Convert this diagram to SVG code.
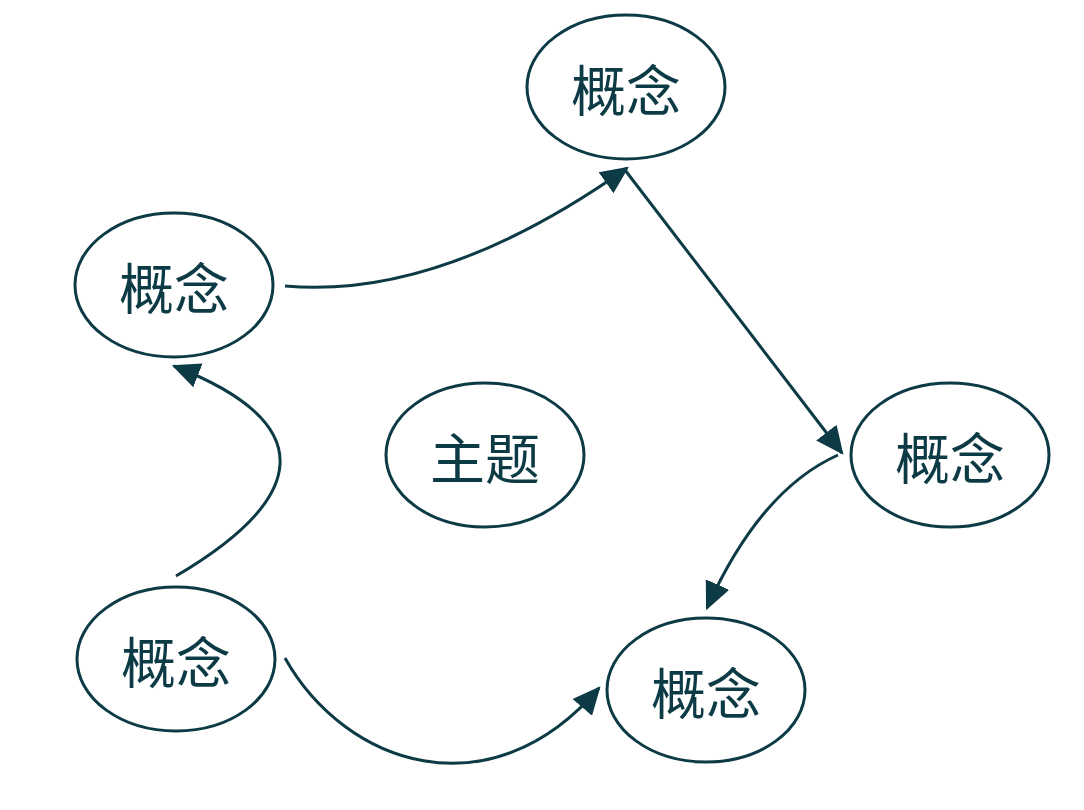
<svg xmlns="http://www.w3.org/2000/svg" width="1084" height="810" viewBox="0 0 1084 810">
<defs>
<style>
.node ellipse{fill:#fff;stroke:#0c3a45;stroke-width:3}
.node text{font-family:"Noto Sans CJK SC","Noto Sans",sans-serif;font-size:55px;fill:#0c3a45;text-anchor:middle;dominant-baseline:central}
.edge{fill:none;stroke:#0c3a45;stroke-width:3;marker-end:url(#arrow)}
</style>
<marker id="arrow" markerUnits="userSpaceOnUse" markerWidth="28" markerHeight="28" viewBox="0 0 24 24" refX="22" refY="12" orient="auto">
<path d="M0,1 L24,12 L0,23 Z" fill="#0c3a45"/>
</marker>
</defs>
<rect width="1084" height="810" fill="#fff"/>
<g id="node-top" class="node"><ellipse cx="626" cy="87" rx="99" ry="72"/><text x="626" y="87">概念</text></g>
<g id="node-left" class="node"><ellipse cx="174" cy="285" rx="99" ry="72"/><text x="174" y="285">概念</text></g>
<g id="node-center" class="node"><ellipse cx="485" cy="455" rx="99" ry="72"/><text x="485" y="455">主题</text></g>
<g id="node-right" class="node"><ellipse cx="950" cy="455" rx="99" ry="72"/><text x="950" y="455">概念</text></g>
<g id="node-bottomleft" class="node"><ellipse cx="176" cy="659" rx="99" ry="72"/><text x="176" y="659">概念</text></g>
<g id="node-bottomright" class="node"><ellipse cx="706" cy="690" rx="99" ry="72"/><text x="706" y="690">概念</text></g>
<g id="connectors">
<path class="edge" d="M285,286 Q440,300 627,168"/>
<path class="edge" d="M625,170 L842,453"/>
<path class="edge" d="M838,455 Q760,490 707,608"/>
<path class="edge" d="M176,576 C305,500 325,425 174,366"/>
<path class="edge" d="M285,658 C345,765 490,815 599,688"/>
</g>
</svg>
